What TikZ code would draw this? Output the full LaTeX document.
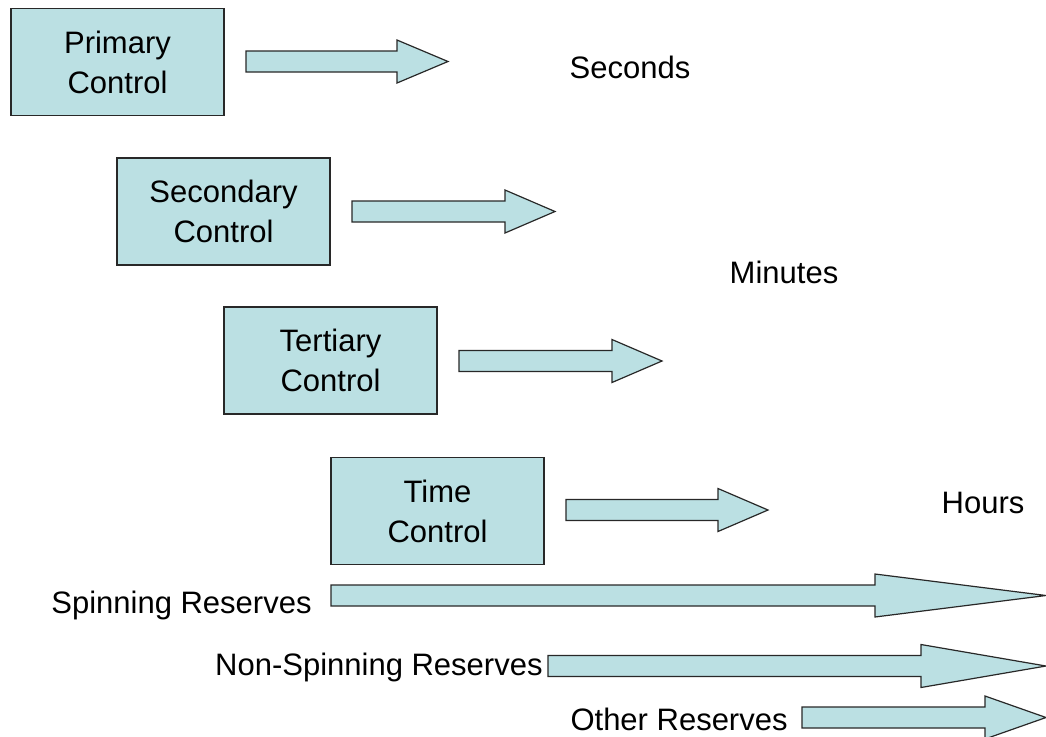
\documentclass[tikz,border=0pt]{standalone}
\usepackage{fontspec}
\setmainfont{Liberation Sans}
\usepackage{tikz}
\usetikzlibrary{shapes, arrows}

\definecolor{boxfill}{RGB}{187,224,227}
\definecolor{boxline}{RGB}{40,40,40}

\tikzset{
  ctrl/.style={rectangle, draw=boxline, fill=boxfill, line width=0.6pt,
    minimum width=106.5pt, minimum height=53.5pt, inner sep=0pt, align=center,
    font=\fontsize{15.5}{20}\selectfont},
  lbl/.style={inner sep=0pt, font=\fontsize{15.5}{20}\selectfont},
  barrow/.style={draw=boxline, fill=boxfill, line width=0.6pt, line join=miter}
}

% block arrow: shaft start x, head x, tip x, centre y
\newcommand{\blockarrow}[4]{%
  \draw[barrow] (#1,#4-10.5) -- (#2,#4-10.5) -- (#2,#4-21.5) -- (#3,#4)
    -- (#2,#4+21.5) -- (#2,#4+10.5) -- (#1,#4+10.5) -- cycle;}

\begin{document}
\begin{tikzpicture}[x=0.5pt, y=-0.5pt]
		\useasboundingbox (0,0) rectangle (1046,736);
		% control boxes
		\node at (117.5,62) [ctrl] (P) {Primary\\Control};
		\node at (223.5,211.5) [ctrl] (S) {Secondary\\Control};
		\node at (330.5,360.5) [ctrl] (T) {Tertiary\\Control};
		\node at (437.5,511) [ctrl] (H) {Time\\Control};
		\blockarrow{246}{397}{448}{61.5}
		\blockarrow{352}{505}{555}{211.5}
		\blockarrow{459}{612}{662}{361}
		\blockarrow{566}{718}{768}{510}
		% time scales
		\node at (630,78) [lbl, anchor=base] (sec) {Seconds};
		\node at (784,283) [lbl, anchor=base] (min) {Minutes};
		\node at (983,513) [lbl, anchor=base] (hrs) {Hours};
		% reserves
		\node at (312,613) [lbl, anchor=base east] (SR) {Spinning Reserves};
		\node at (543,675) [lbl, anchor=base east] (NSR) {Non-Spinning Reserves};
		\node at (788,730) [lbl, anchor=base east] (OR) {Other Reserves};
		\blockarrow{331}{875}{1046}{595.5}
		\blockarrow{548}{921}{1046}{666}
		\blockarrow{802}{985}{1046}{717.5}
		\end{tikzpicture}
\end{document}
